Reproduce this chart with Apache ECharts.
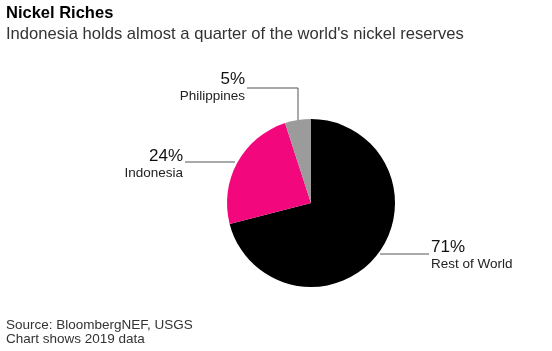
<!DOCTYPE html>
<html>
<head>
<meta charset="utf-8">
<script src="https://cdn.jsdelivr.net/npm/echarts@6/dist/echarts.min.js"></script>
<style>
  html, body { margin: 0; padding: 0; background: #fff; }
  #chart { width: 552px; height: 351px; }
</style>
</head>
<body>
<div id="chart"></div>
<script>
var names = ['Rest of World', 'Indonesia', 'Philippines'];
var shares = [71, 24, 5];
var colors = ['#000000', '#f2077d', '#9b9b9b'];

// where each label sits and how its leader line runs
var labelPlaces = {
  'Rest of World': { x: 431, y: 255, align: 'left', line: [[380, 254], [429, 254]] },
  'Indonesia': { x: 183, y: 164, align: 'right', line: [[235, 162], [185, 162]] },
  'Philippines': { x: 245, y: 87, align: 'right', line: [[298, 121], [298, 88], [247, 88]] }
};

var font = '"Liberation Sans", Arial, sans-serif';

var pieData = [];
for (var i = 0; i < names.length; i++) {
  pieData.push({ name: names[i], value: shares[i], itemStyle: { color: colors[i] } });
}

var chart = echarts.init(document.getElementById('chart'));
chart.setOption({
  animation: false,
  title: [
    { text: 'Nickel Riches', left: 1, top: 0,
      textStyle: { fontFamily: font, fontSize: 16.5, fontWeight: 'bold', color: '#000' } },
    { text: "Indonesia holds almost a quarter of the world's nickel reserves", left: 1, top: 21,
      textStyle: { fontFamily: font, fontSize: 16.6, fontWeight: 'normal', color: '#333' } },
    { text: 'Source: BloombergNEF, USGS\nChart shows 2019 data', left: 1, top: 313,
      textStyle: { fontFamily: font, fontSize: 13.5, fontWeight: 'normal', color: '#333', lineHeight: 14 } }
  ],
  series: [{
    type: 'pie',
    center: [311, 203],
    radius: [0, 84],
    startAngle: 90,
    clockwise: true,
    data: pieData,
    itemStyle: { borderWidth: 0 },
    emphasis: { disabled: true },
    label: {
      show: true,
      formatter: function (p) { return '{v|' + p.value + '%}\n{n|' + p.name + '}'; },
      rich: {
        v: { fontFamily: font, fontSize: 17, color: '#111', lineHeight: 19 },
        n: { fontFamily: font, fontSize: 13.5, color: '#222', lineHeight: 15 }
      }
    },
    labelLine: { show: true, lineStyle: { color: '#555', width: 1 } },
    labelLayout: function (params) {
      var name = names[params.dataIndex];
      var p = labelPlaces[name];
      return {
        x: p.x,
        y: p.y,
        align: p.align,
        verticalAlign: 'middle',
        labelLinePoints: p.line
      };
    }
  }]
});
</script>
</body>
</html>
